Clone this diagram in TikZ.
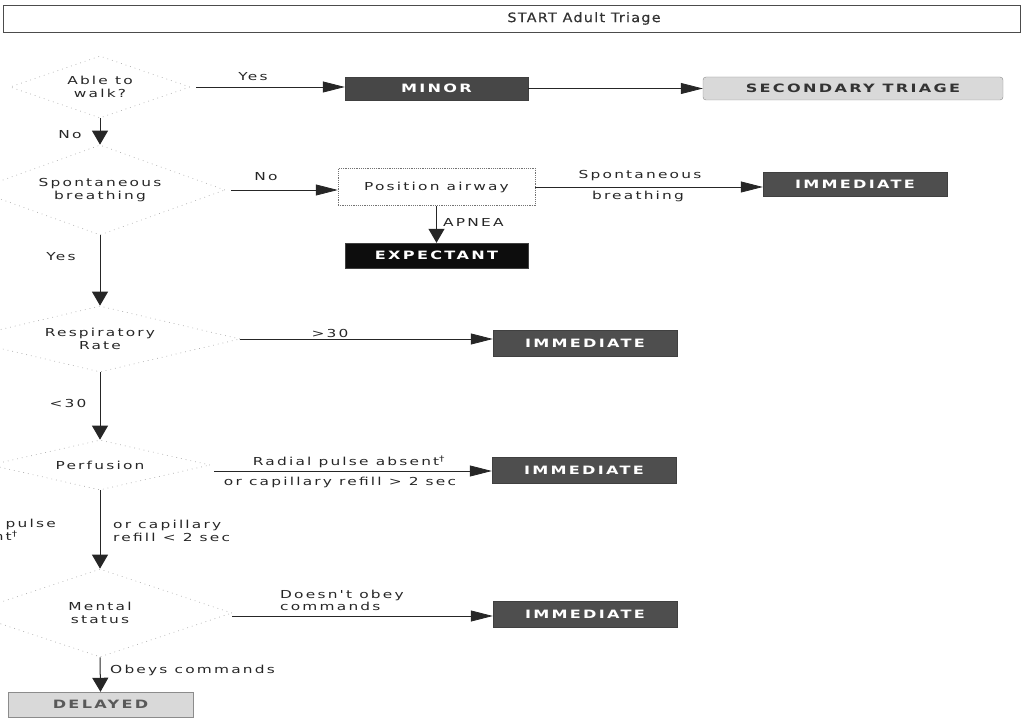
\documentclass[tikz,border=0pt]{standalone}
\usepackage{fontspec}
\usetikzlibrary{arrows.meta,shapes.geometric}
\newfontfamily\lblfont[FakeStretch=1.4,LetterSpace=20]{DejaVu Sans}
\newfontfamily\ttlfont[FakeStretch=1.1,LetterSpace=10,FakeBold=0.5]{DejaVu Sans}
\newcommand\lbl{\fontsize{11}{12.5}\selectfont\lblfont}
\newcommand\tagf{\fontsize{11.5}{13}\selectfont\lblfont\bfseries}
\definecolor{tagdark}{HTML}{4E4E4E}
\definecolor{taglight}{HTML}{D9D9D9}
\definecolor{dotgray}{HTML}{B0B0B0}
\begin{document}
\begin{tikzpicture}[x=1pt,y=-1pt,
  decision/.style={diamond, aspect=4, inner sep=0pt, draw=dotgray,
    line width=0.7pt, dash pattern=on 0.8pt off 4pt, font=\lbl,
    align=center, text=black!85},
  lab/.style={font=\lbl, inner sep=0pt, text=black!85},
  tag/.style={rectangle, inner sep=0pt, font=\tagf, minimum height=24pt},
  darktag/.style={tag, fill=tagdark, draw=black!75, text=white,
    minimum width=184pt},
  lighttag/.style={tag, fill=taglight, draw=black!45, text=black!80},
  plain/.style={rectangle, inner sep=0pt, font=\lbl, draw=black!55,
    dash pattern=on 1.2pt off 1pt, line width=0.5pt, text=black!85},
  harr/.style={draw=black!85, line width=0.8pt,
    -{Triangle[length=22pt,width=11pt]}},
  varr/.style={draw=black!85, line width=1pt,
    -{Triangle[length=14pt,width=16pt]}}]
\useasboundingbox (0,0) rectangle (1023,719);

% heading bar
\draw[line width=0.6pt, draw=black!70] (3,5) rectangle (1020,32);
\node[font=\fontsize{13}{15}\selectfont\ttlfont, text=black!80] (title) at (584,18.5) {START Adult Triage};

% decisions
\node[decision, minimum width=180pt, minimum height=62pt] (walk) at (100,87) {Able to\\walk?};
\node[decision, minimum width=250pt, minimum height=90pt] (spont) at (100,190) {Spontaneous\\breathing};
\node[decision, minimum width=280pt, minimum height=66pt] (resp) at (100,339) {Respiratory\\Rate};
\node[decision, minimum width=220pt, minimum height=50pt] (perf) at (100,465) {Perfusion};
\node[decision, minimum width=264pt, minimum height=88pt] (mental) at (100,613) {Mental\\status};

% outcomes
\node[darktag, fill=black!72, minimum width=183pt, minimum height=23pt] (minor) at (436.5,88.5) {MINOR};
\node[lighttag, rounded corners=3pt, minimum width=300pt, minimum height=23pt] (second) at (853,88.5) {SECONDARY TRIAGE};
\node[plain, minimum width=197pt, minimum height=37pt] (airway) at (436.5,187) {Position airway};
\node[darktag, minimum height=24pt] (imma) at (855,184) {IMMEDIATE};
\node[darktag, fill=black!95, minimum width=183pt, minimum height=25pt] (expect) at (436.5,255.5) {EXPECTANT};
\node[darktag, minimum height=26pt] (immb) at (585,343) {IMMEDIATE};
\node[darktag, minimum height=26pt] (immc) at (584,470) {IMMEDIATE};
\node[darktag, minimum height=26pt] (immd) at (585,614) {IMMEDIATE};
\node[lighttag, minimum width=185pt, minimum height=25pt, text=black!65] (delayed) at (100.5,704.5) {DELAYED};

% connectors
\draw[harr, shorten <=6pt] (walk.east) -- (walk.east -| minor.west);
\draw[harr] (minor.east) -- (second.west);
\draw[varr] (walk.south) -- (spont.north);
\draw[harr, shorten <=6pt] (spont.east) -- (spont.east -| airway.west);
\draw[harr] (airway.east) -- (airway.east -| imma.west);
\draw[varr] (airway.south) -- (expect.north);
\draw[varr] (spont.south) -- (resp.north);
\draw[harr] (resp.east) -- (resp.east -| immb.west);
\draw[varr] (resp.south) -- (perf.north);
\draw[harr, shorten <=4pt] ([yshift=-6pt]perf.east) -- ([yshift=-6pt]perf.east -| immc.west);
\draw[varr] (perf.south) -- (mental.north);
\draw[harr] ([yshift=-3pt]mental.east) -- ([yshift=-3pt]mental.east -| immd.west);
\draw[varr] (mental.south) -- (delayed.north);

% connector labels
\node[lab] (yesa) at (253,77) {Yes};
\node[lab] (noa) at (70,135) {No};
\node[lab] (nob) at (266,177) {No};
\node[lab] (spontup) at (640,176) {Spontaneous};
\node[lab] (spontdown) at (638,196) {breathing};
\node[lab, anchor=west] (apnea) at (443,222) {APNEA};
\node[lab] (yesb) at (61,257) {Yes};
\node[lab] (over) at (330,333) {>30};
\node[lab] (under) at (68,403) {<30};
\node[lab] (absent) at (349,462) {Radial pulse absent\textsuperscript{†}};
\node[lab] (refillup) at (340,482) {or capillary refill > 2 sec};
\node[lab, align=left, anchor=east] (present) at (56,531) {Radial pulse\\present\textsuperscript{†}};
\node[lab, align=left, anchor=west] (refilldown) at (113,531) {or capillary\\refill < 2 sec};
\node[lab, align=left, anchor=west] (noobey) at (280,600.5) {Doesn't obey\\commands};
\node[lab, anchor=west] (obeys) at (110,670) {Obeys commands};
\end{tikzpicture}
\end{document}
